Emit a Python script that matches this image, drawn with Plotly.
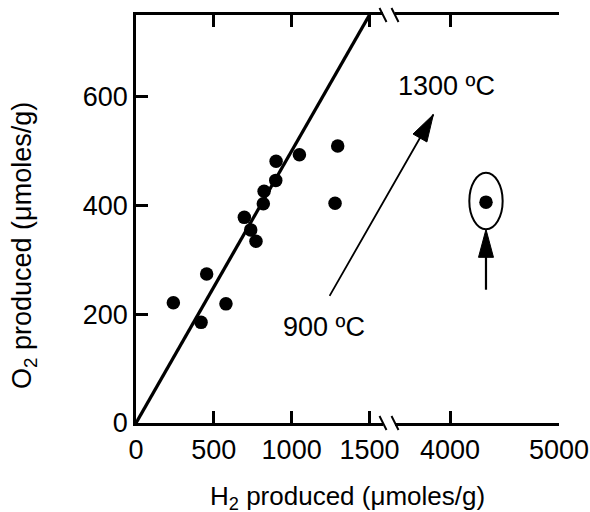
import math
import plotly.graph_objects as go

# ---------------- data ----------------
h2 = [240, 418, 454, 578, 696, 737, 771, 818, 823, 898, 900, 1050, 1296, 1279]
o2 = [221, 185, 274, 219, 378, 355, 334, 403, 426, 446, 481, 493, 509, 404]
h2_hi = [4330]
o2_hi = [406]
fit_x = [0, 1500]
fit_y = [0, 750]
xticks_lo = [0, 500, 1000, 1500]
xticks_hi = [4000, 5000]
yticks = [0, 200, 400, 600]
yticks_right = [200, 400, 600]

label_lo = "900 ºC"
label_hi = "1300 ºC"
label_lo_pos = (1208, 176)      # x (low axis), y
label_hi_pos = (3970, 620)      # x (high axis), y
big_arrow_tail = (2887, 231)    # in x2 / y units
big_arrow_head = (3847, 567)
circle_box = (4177, 4483, 356, 460)
small_arrow = (4330, 245, 356)  # x, y tail, y tip

# ---------------- layout geometry ----------------
FONT = "Liberation Sans, Arial, sans-serif"
W, H = 590, 512
ML, MR, MT, MB = 136, 31, 15, 89
PW = W - ML - MR
PH = H - MT - MB
X1_END = 247
X2_START = 259
d1 = X1_END / PW
d2 = X2_START / PW
x1_range = [0, 1587]
x2_range = [3495, 5000]
y_range = [0, 750]

LW = 2.5


def px_x2(v):
    return ML + X2_START + (v - x2_range[0]) * (PW - X2_START) / (x2_range[1] - x2_range[0])


def px_y(v):
    return MT + PH - (v - y_range[0]) * PH / (y_range[1] - y_range[0])


fig = go.Figure()

fig.add_trace(go.Scatter(x=fit_x, y=fit_y, mode="lines", line=dict(color="black", width=3.3),
                         xaxis="x", yaxis="y", showlegend=False, hoverinfo="skip"))
fig.add_trace(go.Scatter(x=h2, y=o2, mode="markers",
                         marker=dict(color="black", size=13.5),
                         xaxis="x", yaxis="y", showlegend=False))
fig.add_trace(go.Scatter(x=h2_hi, y=o2_hi, mode="markers",
                         marker=dict(color="black", size=13.5),
                         xaxis="x2", yaxis="y", showlegend=False))

axis_common = dict(showline=True, linecolor="black", linewidth=LW, ticks="inside",
                   ticklen=12, tickwidth=LW, tickcolor="black", showgrid=False,
                   zeroline=False, automargin=False,
                   tickfont=dict(family=FONT, size=27, color="black"))

fig.update_layout(
    width=W, height=H, autosize=False, margin=dict(l=ML, r=MR, t=MT, b=MB, pad=0),
    paper_bgcolor="white", plot_bgcolor="white", showlegend=False,
    font=dict(family=FONT, color="black"),
    xaxis=dict(domain=[0, d1], range=x1_range, tickvals=xticks_lo, mirror="ticks",
               anchor="y", ticklabelstandoff=1, **axis_common),
    xaxis2=dict(domain=[d2, 1], range=x2_range, tickvals=xticks_hi, mirror="ticks",
                anchor="y", ticklabelstandoff=1, **axis_common),
    yaxis=dict(domain=[0, 1], range=y_range, tickvals=yticks, anchor="x",
               ticklabelstandoff=0, **axis_common),
    yaxis2=dict(domain=[0, 1], range=y_range, tickvals=yticks_right, anchor="x2",
                overlaying="y", side="right", showticklabels=False,
                **{k: v for k, v in axis_common.items() if k != "tickfont"}),
)

# axis titles
fig.add_annotation(text="H<sub>2</sub> produced (μmoles/g)", xref="paper", yref="paper",
                   x=0.5, y=0, yanchor="middle", yshift=-74, showarrow=False,
                   font=dict(family=FONT, size=26, color="black"))
fig.add_annotation(text="O<sub>2</sub> produced (μmoles/g)", xref="paper", yref="paper",
                   x=0, y=0.5, xanchor="center", xshift=24 - ML, yshift=-27, textangle=-90,
                   showarrow=False, font=dict(family=FONT, size=27, color="black"))

# temperature labels
fig.add_annotation(text=label_lo, xref="x", yref="y", x=label_lo_pos[0], y=label_lo_pos[1],
                   showarrow=False, font=dict(family=FONT, size=27, color="black"))
fig.add_annotation(text=label_hi, xref="x2", yref="y", x=label_hi_pos[0], y=label_hi_pos[1],
                   showarrow=False, font=dict(family=FONT, size=27, color="black"))

# big arrow shaft
fig.add_annotation(text="", xref="x2", yref="y", x=big_arrow_head[0], y=big_arrow_head[1],
                   axref="x2", ayref="y", ax=big_arrow_tail[0], ay=big_arrow_tail[1],
                   showarrow=True, arrowhead=0, arrowwidth=1.8, arrowcolor="black", standoff=0,
                   startstandoff=0)


def head_path(dx, dy, length, width):
    # dx, dy: direction in screen pixels with y up
    n = math.hypot(dx, dy)
    ux, uy = dx / n, dy / n
    px_, py_ = -uy, ux
    bx, by = -ux * length, -uy * length
    hw = width / 2
    p1 = (bx + px_ * hw, by + py_ * hw)
    p2 = (bx - px_ * hw, by - py_ * hw)
    return f"M0,0 L{p1[0]:.2f},{p1[1]:.2f} L{p2[0]:.2f},{p2[1]:.2f} Z"


tx, ty = px_x2(big_arrow_tail[0]), px_y(big_arrow_tail[1])
hx, hy = px_x2(big_arrow_head[0]), px_y(big_arrow_head[1])
fig.add_shape(type="path", xref="x2", yref="y", xsizemode="pixel", ysizemode="pixel",
              xanchor=big_arrow_head[0], yanchor=big_arrow_head[1],
              path=head_path(hx - tx, ty - hy, 27, 16),
              fillcolor="black", line=dict(color="black", width=1))

# ellipse + small arrow
fig.add_shape(type="circle", xref="x2", yref="y", x0=circle_box[0], x1=circle_box[1],
              y0=circle_box[2], y1=circle_box[3], line=dict(color="black", width=2))
fig.add_shape(type="line", xref="x2", yref="y", x0=small_arrow[0], x1=small_arrow[0],
              y0=small_arrow[1], y1=small_arrow[2] - 20, line=dict(color="black", width=2.2))
fig.add_shape(type="path", xref="x2", yref="y", xsizemode="pixel", ysizemode="pixel",
              xanchor=small_arrow[0], yanchor=small_arrow[2],
              path=head_path(0, 1, 28, 15), fillcolor="black", line=dict(color="black", width=1))

# axis break marks
for xa in (d1, d2):
    for ya in (0, 1):
        fig.add_shape(type="line", xref="paper", yref="paper", xsizemode="pixel",
                      ysizemode="pixel", xanchor=xa, yanchor=ya,
                      x0=-3.5, y0=7, x1=3.5, y1=-7, line=dict(color="black", width=2))

fig.write_html("out.html")
